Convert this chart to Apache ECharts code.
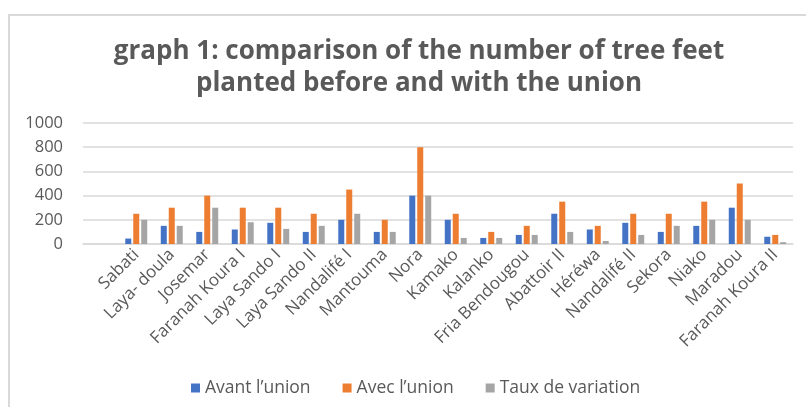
<!DOCTYPE html>
<html><head><meta charset="utf-8">
<script src="https://cdn.jsdelivr.net/npm/echarts@6/dist/echarts.min.js"></script>
<style>html,body{margin:0;padding:0;background:#fff;}#c{width:806px;height:407px;}</style>
</head><body><div id="c"></div>
<script>
const categories = ["", "Sabati", "Laya- doula", "Josemar", "Faranah Koura I", "Laya Sando I", "Laya Sando II", "Nandalifé I", "Mantouma", "Nora", "Kamako", "Kalanko", "Fria Bendougou", "Abattoir II", "Héréwa", "Nandalifé II", "Sekora", "Niako", "Maradou", "Faranah Koura II"];
const avant = [null, 45, 150, 100, 120, 175, 100, 200, 100, 400, 200, 50, 75, 250, 120, 175, 100, 150, 300, 60];
const avec = [null, 250, 300, 400, 300, 300, 250, 450, 200, 800, 250, 100, 150, 350, 150, 250, 250, 350, 500, 75];
const taux = [null, 200, 150, 300, 180, 125, 150, 250, 100, 400, 50, 50, 75, 100, 25, 75, 150, 200, 200, 15];
const yTicks = [0, 200, 400, 600, 800, 1000];
const seriesNames = ["Avant l\u2019union", "Avec l\u2019union", "Taux de variation"];
const colors = ["#4472C4", "#ED7D31", "#A5A5A5"];

const chart = echarts.init(document.getElementById('c'));
const txt = '#595959';
chart.setOption({
  animation: false,
  graphic: [{type:'rect', shape:{x:9, y:15, width:820, height:420}, style:{fill:'none', stroke:'#d9d9d9', lineWidth:2}}],
  title: {
    text: 'graph 1: comparison of the number of tree feet\nplanted before and with the union',
    left: 414, top: 31, textAlign: 'center',
    textStyle: {fontFamily: 'Open Sans', fontWeight: 'bold', fontSize: 26, color: txt, lineHeight: 32}
  },
  legend: {
    data: seriesNames, left: 186, top: 374, itemWidth: 9, itemHeight: 9, itemGap: 32, icon: 'rect',
    textStyle: {fontFamily: 'Open Sans', fontSize: 17.5, color: txt}
  },
  grid: {left: 83, right: 13, top: 123, bottom: 163},
  xAxis: {
    type: 'category', data: categories,
    axisLine: {lineStyle: {color: '#d9d9d9', width: 1.5}},
    axisTick: {show: false},
    axisLabel: {rotate: 45, interval: 0, margin: 8, fontFamily: 'Open Sans', fontSize: 17, color: txt}
  },
  yAxis: {
    type: 'value', min: yTicks[0], max: yTicks[yTicks.length-1], interval: 200,
    axisLine: {show: false}, axisTick: {show: false},
    axisLabel: {margin: 20, fontFamily: 'Open Sans', fontSize: 16.5, color: txt, formatter: v => String(v)},
    splitLine: {lineStyle: {color: '#d9d9d9', width: 1.5}}
  },
  series: [avant, avec, taux].map((d, i) => ({
    name: seriesNames[i], type: 'bar', data: d, barWidth: 6, barGap: '33%',
    itemStyle: {color: colors[i]}
  }))
});
</script></body></html>
